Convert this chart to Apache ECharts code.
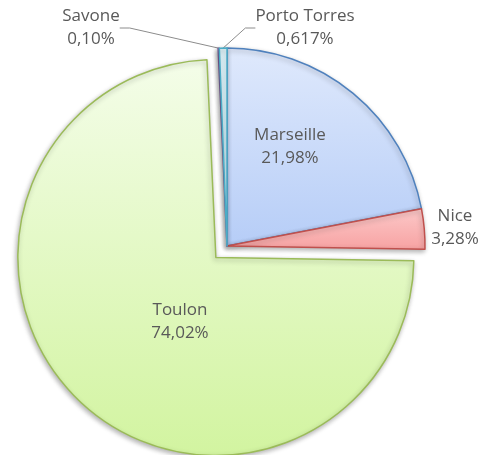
<!DOCTYPE html>
<html>
<head>
<meta charset="utf-8">
<script src="https://cdn.jsdelivr.net/npm/echarts@6/dist/echarts.min.js"></script>
<style>
  html, body { margin: 0; padding: 0; background: #fff; }
  #chart { width: 495px; height: 455px; }
</style>
</head>
<body>
<div id="chart"></div>
<script>
// ports, clockwise from 12 o'clock
const ports = ['Marseille', 'Nice', 'Toulon', 'Savone', 'Porto Torres'];
const shares = [21.98, 3.28, 74.02, 0.10, 0.617];
const shareText = ['21,98%', '3,28%', '74,02%', '0,10%', '0,617%'];

const fills = [
  ['#dfe9fc', '#b6cdf7'],
  ['#fcc9c9', '#f7a2a2'],
  ['#f4fde9', '#d2f4a0'],
  ['#e4dcf0', '#cbbde0'],
  ['#e0f5fb', '#bfe8f4']
];
const borders = ['#4f81bd', '#c0504d', '#9bbb59', '#8064a2', '#4bacc6'];

// where Excel put the labels (centre of the text block)
const labelSpot = [
  { x: 290, y: 147 },
  { x: 455, y: 228 },
  { x: 180, y: 322 },
  { x: 91, y: 28 },
  { x: 305, y: 28 }
];

const pieCenter = [227, 246];
const pieRadius = 198;
const pulled = 'Toulon';
const pullOut = 16;

// the pulled slice is drawn as its own pie, shifted along its mid angle
const total = shares.reduce(function (a, b) { return a + b; }, 0);
const pulledIdx = ports.indexOf(pulled);
let before = 0;
for (let i = 0; i < pulledIdx; i++) before += shares[i];
const midAngle = (before + shares[pulledIdx] / 2) / total * 2 * Math.PI;
const pulledCenter = [
  pieCenter[0] + Math.sin(midAngle) * pullOut,
  pieCenter[1] - Math.cos(midAngle) * pullOut
];

const chart = echarts.init(document.getElementById('chart'));

function makeData(showPulled) {
  return ports.map(function (name, i) {
    const visible = (name === pulled) === showPulled;
    const outside = i === 1 || i === 3 || i === 4;
    if (!visible) {
      return {
        name: name,
        value: shares[i],
        itemStyle: { color: 'rgba(0,0,0,0)', borderWidth: 0, shadowBlur: 0, shadowColor: 'rgba(0,0,0,0)' },
        label: { show: false },
        labelLine: { show: false }
      };
    }
    return {
      name: name,
      value: shares[i],
      itemStyle: {
        color: {
          type: 'linear', x: 0, y: 0, x2: 0, y2: 1,
          colorStops: [
            { offset: 0, color: fills[i][0] },
            { offset: 1, color: fills[i][1] }
          ]
        },
        borderColor: borders[i]
      },
      label: { position: outside ? 'outside' : 'inside' },
      labelLine: { show: i === 3 || i === 4 }
    };
  });
}

function pieSeries(center, showPulled) {
  return {
    type: 'pie',
    center: center,
    radius: pieRadius,
    startAngle: 90,
    clockwise: true,
    avoidLabelOverlap: false,
    silent: true,
    itemStyle: {
      borderWidth: 1.5,
      shadowBlur: 5,
      shadowColor: 'rgba(0,0,0,0.3)',
      shadowOffsetX: -1,
      shadowOffsetY: 2
    },
    label: {
      formatter: function (p) { return p.name + '\n' + shareText[p.dataIndex]; },
      fontFamily: 'Open Sans',
      fontSize: 17,
      lineHeight: 23,
      color: '#595959',
      align: 'center'
    },
    labelLine: {
      length: 20,
      length2: 10,
      lineStyle: { color: '#8c8c8c', width: 1 }
    },
    labelLayout: function (p) {
      const s = labelSpot[p.dataIndex];
      return { x: s.x, y: s.y, align: 'center', verticalAlign: 'middle' };
    },
    data: makeData(showPulled)
  };
}

chart.setOption({
  animation: false,
  series: [
    pieSeries(pulledCenter, true),
    pieSeries(pieCenter, false)
  ]
});
</script>
</body>
</html>
